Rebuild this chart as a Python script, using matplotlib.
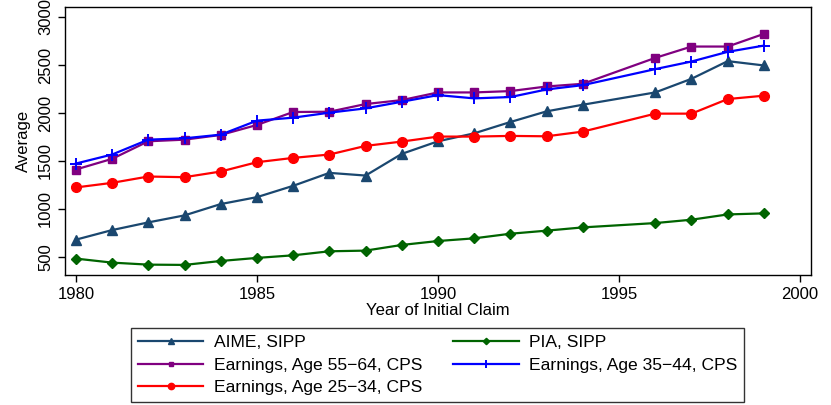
import matplotlib
matplotlib.use("Agg")
import matplotlib.pyplot as plt

plt.rcParams['font.family'] = ['Liberation Sans', 'DejaVu Sans']

years = [1980, 1981, 1982, 1983, 1984, 1985, 1986, 1987, 1988, 1989,
         1990, 1991, 1992, 1993, 1994, 1996, 1997, 1998, 1999]
aime = [680, 780, 860, 933, 1051, 1123, 1241, 1376, 1348, 1574,
        1705, 1788, 1906, 2017, 2086, 2214, 2356, 2540, 2495]
pia = [483, 441, 420, 417, 458, 490, 517, 559, 566, 625,
       666, 694, 742, 774, 808, 853, 888, 943, 954]
earn_55_64 = [1411, 1522, 1705, 1722, 1771, 1875, 2010, 2013, 2093, 2134,
              2214, 2214, 2228, 2276, 2304, 2574, 2692, 2692, 2824]
earn_35_44 = [1473, 1567, 1722, 1736, 1774, 1920, 1951, 2003, 2048, 2117,
              2186, 2152, 2166, 2245, 2290, 2457, 2536, 2637, 2702]
earn_25_34 = [1224, 1272, 1338, 1331, 1390, 1487, 1532, 1567, 1657, 1702,
              1754, 1754, 1761, 1757, 1806, 1993, 1993, 2145, 2180]

xticks = [1980, 1985, 1990, 1995, 2000]
yticks = [500, 1000, 1500, 2000, 2500, 3000]

fig = plt.figure(figsize=(8.31, 4.05), dpi=100)
ax = fig.add_axes([65/831, 1-275/405, (811-65)/831, (275-7)/405])

lw = 1.6
h1, = ax.plot(years, aime, color='#1a476f', marker='^', markersize=6.5, lw=lw, label='AIME, SIPP')
h2, = ax.plot(years, pia, color='#006400', marker='D', markersize=5, lw=lw, label='PIA, SIPP')
h3, = ax.plot(years, earn_55_64, color='#800080', marker='s', markersize=5.5, lw=lw, label='Earnings, Age 55\u221264, CPS')
h4, = ax.plot(years, earn_35_44, color='#0000ff', marker='+', markersize=8, mew=1.4, lw=lw, label='Earnings, Age 35\u221244, CPS')
h5, = ax.plot(years, earn_25_34, color='#ff0000', marker='o', markersize=7, lw=lw, label='Earnings, Age 25\u221234, CPS')

ax.set_xlim(1979.7, 2000.3)
ax.set_ylim(312, 3104)
ax.set_xticks(xticks)
ax.set_yticks(yticks)
ax.tick_params(axis='both', direction='out', length=5, width=1, labelsize=12, colors='black')
for lab in ax.get_yticklabels():
    lab.set_rotation(90)
    lab.set_va('center')
ax.set_xlabel('Year of Initial Claim', fontsize=12, labelpad=1)
ax.set_ylabel('Average', fontsize=12, labelpad=5)
for s in ax.spines.values():
    s.set_linewidth(1.0)

handles = [h1, h3, h5, h2, h4]
leg = fig.legend(handles, [h.get_label() for h in handles], ncol=2,
                 loc='center', bbox_to_anchor=(437.5/831, 1-365/405),
                 fontsize=12.6, frameon=True, fancybox=False, edgecolor='black',
                 handlelength=3.75, columnspacing=1.75, borderpad=0.38, labelspacing=0.42,
                 handletextpad=0.6, markerscale=0.65)
leg.get_frame().set_linewidth(1.0)

fig.savefig('out.png', dpi=100)
